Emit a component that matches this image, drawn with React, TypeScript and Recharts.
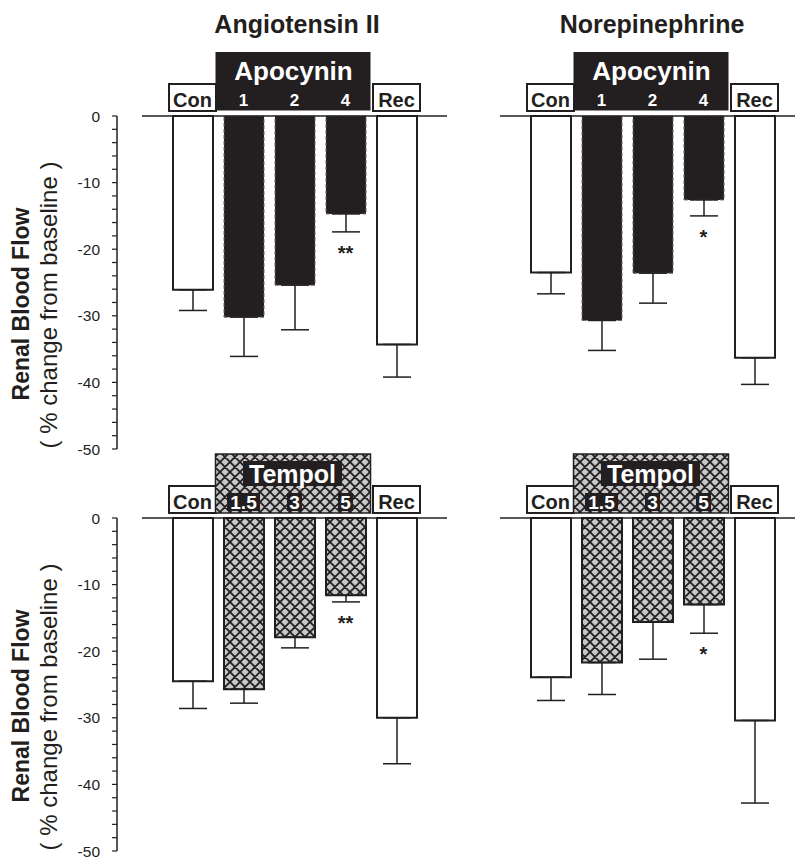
import React from 'react';
import { ComposedChart, Bar, XAxis, YAxis, ErrorBar, Cell, Line } from 'recharts';

const FONT = "'Liberation Sans', Arial, Helvetica, sans-serif";
const INK = '#231f20';

// ---- data ----
const apocyninCategories = ['Con', '1', '2', '4', 'Rec'];
const tempolCategories = ['Con', '1.5', '3', '5', 'Rec'];

const angApoValues = [-26.1, -30.2, -25.4, -14.7, -34.3];
const angApoErrors = [3.1, 5.9, 6.7, 2.7, 4.9];
const angApoSig = ['', '', '', '**', ''];

const neApoValues = [-23.5, -30.7, -23.6, -12.6, -36.3];
const neApoErrors = [3.2, 4.5, 4.5, 2.4, 4.0];
const neApoSig = ['', '', '', '*', ''];

const angTempolValues = [-24.5, -25.7, -17.9, -11.6, -30.0];
const angTempolErrors = [4.1, 2.1, 1.6, 1.0, 6.9];
const angTempolSig = ['', '', '', '**', ''];

const neTempolValues = [-23.9, -21.7, -15.6, -13.0, -30.4];
const neTempolErrors = [3.5, 4.8, 5.6, 4.3, 12.4];
const neTempolSig = ['', '', '', '*', ''];

const yTicks = [0, -2, -4, -6, -8, -10, -12, -14, -16, -18, -20, -22, -24, -26, -28, -30, -32, -34, -36, -38, -40, -42, -44, -46, -48, -50];
const yLabelTicks = [0, -10, -20, -30, -40, -50];

const panelTitles = ['Angiotensin II', 'Norepinephrine'];
const groupNames = { apo: 'Apocynin', tempol: 'Tempol' };

type Row = { cat: string; value: number; err: number[]; sig: string };
function buildRows(cats: string[], vals: number[], errs: number[], sig: string[]): Row[] {
  return cats.map((c, i) => ({ cat: c, value: vals[i], err: [errs[i], 0], sig: sig[i] }));
}

// ---- layout constants ----
const PLOT_W = 305;
const PAD = 25;
const BAND = (PLOT_W - 2 * PAD) / 5;

function HeaderTick(props: any) {
  const { x, y, payload, kind } = props;
  const label = String(payload.value);
  const idx = props.index ?? payload.index;
  if (label === 'Con' || label === 'Rec') {
    return (
      <g>
        <rect x={x - 23.5} y={y - 32} width={47} height={27} fill="#fff" stroke={INK} strokeWidth={2} />
        <text x={x} y={y - 9.5} textAnchor="middle" fontFamily={FONT} fontWeight="bold" fontSize={20} fill={INK}>
          {label}
        </text>
      </g>
    );
  }
  const parts: any[] = [];
  if (idx === 1) {
    const gc = x + BAND;
    if (kind === 'apo') {
      parts.push(<rect key="gb" x={x - 28} y={y - 64} width={155} height={58.5} fill={INK} />);
      parts.push(
        <text key="gt" x={gc - 1} y={y - 36} textAnchor="middle" fontFamily={FONT} fontWeight="bold" fontSize={26} fill="#fff">
          {groupNames.apo}
        </text>
      );
    } else {
      parts.push(<rect key="gb" x={x - 28} y={y - 64} width={155} height={59} fill="url(#hatch)" stroke={INK} strokeWidth={1.5} />);
      parts.push(<rect key="gr" x={gc - 2 - 49.5} y={y - 57} width={99} height={25} fill={INK} />);
      parts.push(
        <text key="gt" x={gc - 2} y={y - 35} textAnchor="middle" fontFamily={FONT} fontWeight="bold" fontSize={25} fill="#fff">
          {groupNames.tempol}
        </text>
      );
    }
  }
  if (kind === 'apo') {
    parts.push(
      <text key="n" x={x} y={y - 10} textAnchor="middle" fontFamily={FONT} fontWeight="bold" fontSize={17} fill="#fff">
        {label}
      </text>
    );
  } else {
    const w = label.length > 1 ? 33 : 15;
    parts.push(<rect key="nb" x={x - w / 2} y={y - 25} width={w} height={18} fill={INK} />);
    parts.push(
      <text key="n" x={x} y={y - 9} textAnchor="middle" fontFamily={FONT} fontWeight="bold" fontSize={19} fill="#fff">
        {label}
      </text>
    );
  }
  return <g>{parts}</g>;
}

function SigDot(props: any) {
  const { cx, cy, payload } = props;
  if (!payload || !payload.sig || cy == null || isNaN(cy)) return <g />;
  return (
    <text x={cx} y={cy + 28} textAnchor="middle" fontFamily={FONT} fontWeight="bold" fontSize={20} fill={INK}>
      {payload.sig}
    </text>
  );
}

function barStyle(kind: string, i: number) {
  if (i === 0 || i === 4) return { fill: '#ffffff', stroke: INK, strokeWidth: 2 };
  if (kind === 'apo') return { fill: INK, stroke: '#666', strokeWidth: 1, strokeDasharray: '4 2' };
  return { fill: 'url(#hatch)', stroke: INK, strokeWidth: 2 };
}

function Panel(props: { left: number; top: number; plotLeft: number; kind: string; data: Row[] }) {
  const { left, top, plotLeft, kind, data } = props;
  const W = plotLeft + PLOT_W + 13;
  return (
    <div style={{ position: 'absolute', left, top }}>
      <ComposedChart width={W} height={460} data={data} margin={{ top: 115, left: plotLeft, right: 13, bottom: 11 }}>
        <XAxis
          dataKey="cat"
          orientation="top"
          height={1}
          interval={0}
          padding={{ left: PAD, right: PAD }}
          tickLine={false}
          tickSize={0}
          tickMargin={0}
          axisLine={{ stroke: INK, strokeWidth: 1.5 }}
          tick={<HeaderTick kind={kind} />}
        />
        <YAxis hide type="number" domain={[-50, 0]} />
        <Bar dataKey="value" barSize={40} isAnimationActive={false}>
          {data.map((d, i) => (
            <Cell key={d.cat} {...barStyle(kind, i)} />
          ))}
          <ErrorBar dataKey="err" direction="y" width={14} stroke={INK} strokeWidth={1.5} />
        </Bar>
        <Line
          dataKey={(d: Row) => (d.sig ? d.value - d.err[0] : null)}
          stroke="none"
          dot={<SigDot />}
          activeDot={false}
          isAnimationActive={false}
          connectNulls={false}
        />
      </ComposedChart>
    </div>
  );
}

function YAxisChart(props: { top: number; data: Row[] }) {
  return (
    <div style={{ position: 'absolute', left: 0, top: props.top }}>
      <ComposedChart width={130} height={460} data={props.data} margin={{ top: 116, left: 0, right: 0, bottom: 11 }}>
        <XAxis dataKey="cat" hide />
        <YAxis
          type="number"
          domain={[-50, 0]}
          ticks={yTicks}
          interval={0}
          width={117}
          tickSize={5}
          tickMargin={12}
          axisLine={{ stroke: INK, strokeWidth: 1.5 }}
          tickLine={{ stroke: INK, strokeWidth: 1.2 }}
          tickFormatter={(v: number) => (yLabelTicks.includes(v) ? String(v) : '')}
          tick={{ fontFamily: FONT, fontSize: 15.5, fill: INK }}
        />
        <Line dataKey="value" stroke="none" dot={false} activeDot={false} isAnimationActive={false} />
      </ComposedChart>
    </div>
  );
}

function AxisTitle(props: { cy: number }) {
  const { cy } = props;
  return (
    <g>
      <text transform={`translate(29, ${cy}) rotate(-90)`} textAnchor="middle" fontFamily={FONT} fontWeight="bold" fontSize={23} fill={INK}>
        Renal Blood Flow
      </text>
      <text transform={`translate(57, ${cy + 1}) rotate(-90)`} textAnchor="middle" fontFamily={FONT} fontSize={24} fill={INK}>
        ( % change from baseline )
      </text>
    </g>
  );
}

export default function App() {
  const tl = buildRows(apocyninCategories, angApoValues, angApoErrors, angApoSig);
  const tr = buildRows(apocyninCategories, neApoValues, neApoErrors, neApoSig);
  const bl = buildRows(tempolCategories, angTempolValues, angTempolErrors, angTempolSig);
  const br = buildRows(tempolCategories, neTempolValues, neTempolErrors, neTempolSig);
  return (
    <div style={{ position: 'absolute', left: 0, top: 0, width: 795, height: 857, overflow: 'hidden', background: '#fff' }}>
      <svg width={0} height={0} style={{ position: 'absolute' }}>
        <defs>
          <pattern id="hatch" patternUnits="userSpaceOnUse" width={10} height={10}>
            <rect x={0} y={0} width={10} height={10} fill="#c6c7c9" />
            <path d="M0,0 L10,10 M10,0 L0,10 M-1,9 L1,11 M9,-1 L11,1 M-1,1 L1,-1 M9,11 L11,9" stroke={INK} strokeWidth={1.8} />
          </pattern>
        </defs>
      </svg>
      <YAxisChart top={0} data={tl} />
      <YAxisChart top={402} data={bl} />
      <Panel left={0} top={0} plotLeft={142} kind="apo" data={tl} />
      <Panel left={400} top={0} plotLeft={100} kind="apo" data={tr} />
      <Panel left={0} top={402} plotLeft={142} kind="tempol" data={bl} />
      <Panel left={400} top={402} plotLeft={100} kind="tempol" data={br} />
      <svg width={795} height={857} style={{ position: 'absolute', left: 0, top: 0, pointerEvents: 'none' }}>
        <text x={297} y={33} textAnchor="middle" fontFamily={FONT} fontWeight="bold" fontSize={25} fill={INK}>
          {panelTitles[0]}
        </text>
        <text x={652} y={33} textAnchor="middle" fontFamily={FONT} fontWeight="bold" fontSize={25} fill={INK}>
          {panelTitles[1]}
        </text>
        <AxisTitle cy={304} />
        <AxisTitle cy={706} />
      </svg>
    </div>
  );
}
